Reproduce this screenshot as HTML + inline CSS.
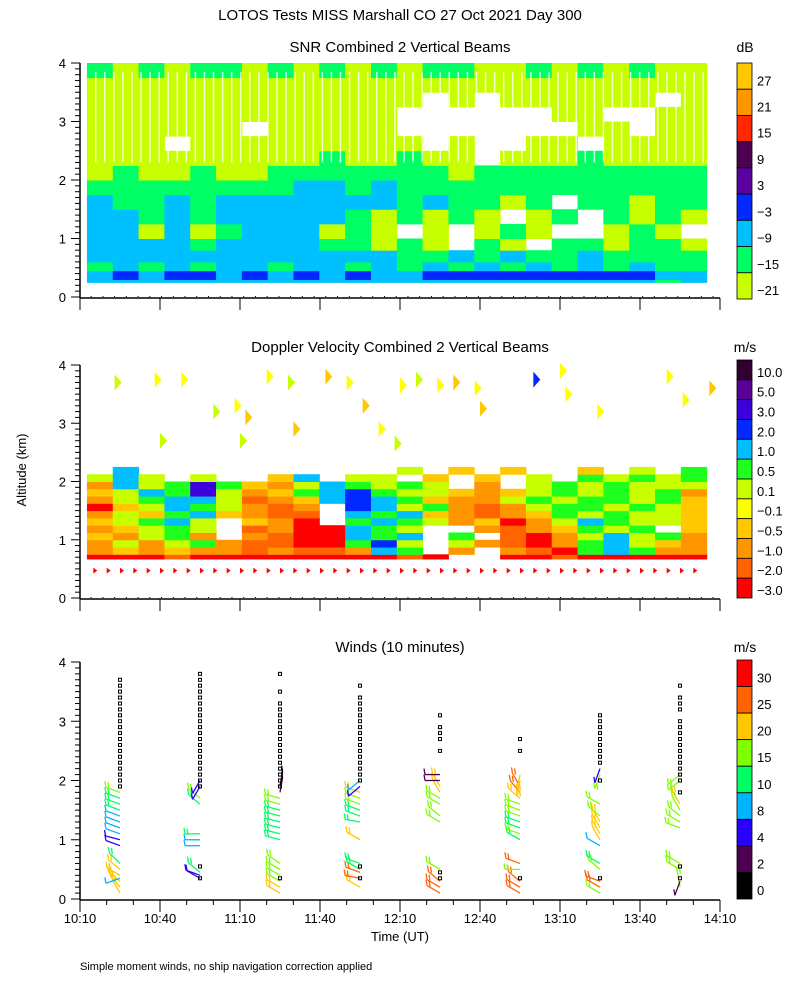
<!DOCTYPE html>
<html><head><meta charset="utf-8">
<style>
html,body{margin:0;padding:0;background:#fff;}
svg{display:block;font-family:"Liberation Sans",sans-serif;}
text{fill:#000;}
</style></head>
<body>
<svg id="fig" width="800" height="1000" viewBox="0 0 800 1000" xmlns="http://www.w3.org/2000/svg">
<text x="400" y="20" text-anchor="middle" font-size="15">LOTOS Tests MISS Marshall CO  27 Oct 2021 Day 300</text>
<text x="400" y="52" text-anchor="middle" font-size="15">SNR Combined 2 Vertical Beams</text>
<text x="400" y="352" text-anchor="middle" font-size="15">Doppler Velocity Combined 2 Vertical Beams</text>
<text x="400" y="652" text-anchor="middle" font-size="15">Winds (10 minutes)</text>
<text x="745" y="52" text-anchor="middle" font-size="14">dB</text>
<text x="745" y="352" text-anchor="middle" font-size="14">m/s</text>
<text x="745" y="652" text-anchor="middle" font-size="14">m/s</text>
<text x="0" y="0" transform="translate(26,470) rotate(-90)" text-anchor="middle" font-size="13">Altitude (km)</text>
<text x="400" y="941" text-anchor="middle" font-size="13">Time (UT)</text>
<text x="80" y="970" font-size="11">Simple moment winds, no ship navigation correction applied</text>
<g id="snr"></g>
<g id="dop"></g>
<g id="wind"></g>
<g id="axes"></g>
<g id="cbars"></g>
</svg>
<script>
// ---- data ----
const snrAltEdges=[0.25,0.3,0.45,0.6,0.8,1.0,1.25,1.5,1.75,2.0,2.25,2.5,2.75,3.0,3.25,3.5,3.75,4.0];
const snrRows=[
"CCCCCCCCCCCCCCCCCCCCCCGC",
"CBCBBCBCBCBCCBBBBBBBBBCC",
"GCGCGCCGCCGCGCGCGCGCGCGG",
"CCCCCCCCCCCCGGCGCGGCGGGG",
"CCCCGCCCCGGYGYWGYWGGYGGY",
"CCYCYGCCCYGYWYWYGYWWYGYW",
"CCGCGCCCCCGYGYGYWYGWGYGY",
"CGGCGCCCCCCCGCGGYGWGGYGG",
"GGGGGGGGCCGCGGGGGGGGGGGG",
"YGYYGYYGGGGGGGYGGGGGGGGG",
"YYYYYYYYYGYYGYYWYYYGYYYY",
"YYYWYYYYYYYYYWYWWYYWYYYY",
"YYYYYYWYYYYYWWWWWWWYYWYY",
"YYYYYYYYYYYYWWWWWWYYWWYY",
"YYYYYYYYYYYYYWYWYYYYYYWY",
"YYYYYYYYYYYYYYYYYYYYYYYY",
"GYGYGGYGYGYGYGGYYGYGYGYY"];
const snrColors={Y:"#c8ff00",G:"#00ff64",C:"#00c0ff",B:"#0028ff"};
const snrLabels=["27","21","15","9","3","\u22123","\u22129","\u221215","\u221221"];
const snrBar=["#ffc800","#ff9600","#ff2800","#4b0050","#5a00a0","#0028ff","#00c0ff","#00ff64","#c8ff00"];

const dopAltEdges=[0.67,0.75,0.875,1.0,1.125,1.25,1.375,1.5,1.625,1.75,1.875,2.0,2.125,2.25];
const dopRows=[
"RRRrRRRRRRRRrR..RRrRRRRR",
"OoOoOOrOrrOCG.O.OrRGCGOO",
"OyOyGOrrRRGBy.yOrROGCyoO",
"oOyGO.OrRRCGC.G.rROyCyGO",
"OoyGy.rORRCGy..OrOoGyG.o",
"oyGCy.oOR.GCGyOoROyCGyyo",
"OyoGCoOrr.CGCoOrOoGyGyyo",
"RoyCGyOrO.BCyGOrOyGGyGyo",
"OyGCCyrOoCBCGoOOyGyGGyGo",
"oyCGVyOoGCBGyyoOoyGyGyGO",
"OCyGVGoOyCGyGy.O.yGyGyyy",
"yCy.y..oC.yy.o.o.y.GyGyG",
".C..........y.o.o..o.y.G"];
const dopColors={R:"#ff0000",r:"#ff6400",O:"#ff9600",o:"#ffc800",Y:"#ffff00",y:"#c8ff00",G:"#1eff1e",C:"#00beff",B:"#0028ff",V:"#3c00dc"};
// sparse upper echoes: [minutes after 10:10, altitude km, code]
const dopSparseT=[13,28,38,50,58,62,70,78,92,100,120,126,134,140,148,150,170,182,194,220,226,236,60,80,112,118,180,30,106];
const dopSparseA=[3.7,3.75,3.75,3.2,3.3,3.1,3.8,3.7,3.8,3.7,3.65,3.75,3.65,3.7,3.6,3.25,3.75,3.5,3.2,3.8,3.4,3.6,2.7,2.9,2.9,2.65,3.9,2.7,3.3];
const dopSparseC=["y","Y","Y","y","Y","o","Y","y","o","Y","Y","y","Y","o","Y","o","B","Y","Y","Y","Y","o","y","o","Y","y","Y","y","o"];
const dopLabels=["10.0","5.0","3.0","2.0","1.0","0.5","0.1","\u22120.1","\u22120.5","\u22121.0","\u22122.0","\u22123.0"];
const dopBar=["#300030","#5a0096","#3c00dc","#0028ff","#00beff","#1eff1e","#c8ff00","#ffff00","#ffc800","#ff9600","#ff6400","#ff0000"];

// winds: profile times (minutes after 10:10)
const windTimes=[15,45,75,105,135,165,195,225];
const windAlt=[
[0.1,0.2,0.3,0.4,0.5,0.35,0.6,0.9,1.0,1.1,1.2,1.3,1.4,1.5,1.6,1.7,1.8],
[0.35,0.4,0.45,0.9,1.0,1.1,1.6,1.7,1.9,2.0],
[0.1,0.2,0.3,0.4,0.5,0.6,1.0,1.1,1.2,1.3,1.4,1.5,1.6,1.7,1.8,1.9],
[0.2,0.35,0.45,0.5,0.6,1.0,1.3,1.4,1.5,1.6,1.7,1.8,1.9,2.0],
[0.1,0.2,0.3,0.5,1.3,1.4,1.6,1.7,1.8,1.9,2.0,2.1],
[0.1,0.2,0.3,0.5,0.6,1.0,1.1,1.2,1.3,1.4,1.5,1.6,1.7,1.8,1.9,2.0,2.1],
[0.1,0.2,0.3,0.5,0.6,0.9,1.0,1.1,1.2,1.3,1.4,1.6,2.1,2.2],
[0.2,0.3,0.5,0.6,1.2,1.3,1.4,1.5,1.6,2.0,2.1]];
const windSpd=[
[22,22,22,22,21,9,14,6,6,9,9,9,9,12,12,14,16],
[5,6,12,9,9,10,14,16,6,6],
[21,21,18,17,17,16,12,12,12,13,14,14,15,16,3,1],
[21,26,26,13,13,21,13,12,14,16,18,20,6,9],
[26,26,26,17,16,17,16,18,21,21,3,3],
[26,26,26,17,25,14,16,13,14,16,15,18,22,25,25,22,22],
[18,26,26,16,14,9,21,21,21,21,18,16,16,6],
[16,3,16,17,17,18,17,18,21,16,16]];
const windAng=[
[60,50,40,30,40,-20,45,20,15,20,20,20,20,20,20,20,20],
[30,20,40,0,0,0,40,40,-60,-60],
[30,30,30,30,30,35,15,15,15,15,15,15,15,15,100,100],
[30,10,20,30,20,30,10,20,20,20,20,20,-40,-40],
[30,30,40,30,30,40,30,30,60,60,0,0],
[30,30,40,0,20,30,20,20,20,20,20,20,40,50,60,-80,-80],
[30,30,20,40,30,30,60,60,60,60,40,30,-70,-70],
[80,-70,30,30,20,30,40,60,60,-40,-40]];
const windMissA=[
[1.9,2.0,2.1,2.2,2.3,2.4,2.5,2.6,2.7,2.8,2.9,3.0,3.1,3.2,3.3,3.4,3.5,3.6,3.7],
[0.35,0.55,1.9,2.0,2.1,2.2,2.3,2.4,2.5,2.6,2.7,2.8,2.9,3.0,3.1,3.2,3.3,3.4,3.5,3.6,3.7,3.8],
[0.35,1.9,2.0,2.1,2.2,2.3,2.4,2.5,2.6,2.7,2.8,2.9,3.0,3.1,3.2,3.3,3.5,3.8],
[0.35,0.55,2.0,2.1,2.2,2.3,2.4,2.5,2.6,2.7,2.8,2.9,3.0,3.1,3.2,3.3,3.4,3.6],
[0.35,0.45,2.5,2.7,2.8,2.9,3.1],
[0.35,2.5,2.7],
[0.35,2.0,2.3,2.4,2.5,2.6,2.7,2.8,2.9,3.0,3.1],
[0.35,0.55,1.8,2.0,2.1,2.2,2.3,2.4,2.5,2.6,2.7,2.8,2.9,3.0,3.2,3.3,3.4,3.6]];
const windLabels=["30","25","20","15","10","8","4","2","0"];
const windBar=["#ff0000","#ff6400","#ffc800","#80ff00","#00ff64","#00b4ff","#2800ff","#500050","#000000"];
const windEdges=[2,4,8,10,15,20,25,30];
const timeLabels=["10:10","10:40","11:10","11:40","12:10","12:40","13:10","13:40","14:10"];
const altLabels=["0","1","2","3","4"];

// ---- axis functions ----
const NS="http://www.w3.org/2000/svg";
const X0=80,X1=720,TSPAN=240;
function xT(t){return X0+t*(X1-X0)/TSPAN;}
const panels={snr:{y0:297,y4:63},dop:{y0:598,y4:365},wind:{y0:899,y4:662}};
function yA(p,a){const P=panels[p];return P.y0+(P.y4-P.y0)*a/4;}
function mk(tag,attrs,parent){const e=document.createElementNS(NS,tag);for(const k in attrs)e.setAttribute(k,attrs[k]);parent.appendChild(e);return e;}
const dataT0=2.6,dataT1=235;

// SNR
const gS=document.getElementById('snr');
snrRows.forEach((row,ri)=>{
  const n=row.length;
  for(let c=0;c<n;c++){const ch=row[c];if(!snrColors[ch])continue;
    const ta=dataT0+(dataT1-dataT0)*c/n,tb=dataT0+(dataT1-dataT0)*(c+1)/n;
    const r=mk('rect',{x:xT(ta),y:yA('snr',snrAltEdges[ri+1]),width:xT(tb)-xT(ta)+0.5,height:yA('snr',snrAltEdges[ri])-yA('snr',snrAltEdges[ri+1])+0.5,fill:snrColors[ch]},gS);
    
    
  }
});
// thin vertical white streak texture in upper SNR region
for(let t=dataT0+3;t<dataT1;t+=3.4){
  const s=mk('rect',{x:xT(t),y:yA('snr',3.85),width:1.5,height:yA('snr',2.3)-yA('snr',3.85),fill:'#fff',opacity:0.8},gS);
  
  
}
// Doppler
const gD=document.getElementById('dop');
dopRows.forEach((row,ri)=>{
  const n=24;
  for(let c=0;c<row.length;c++){const ch=row[c];if(!dopColors[ch])continue;
    const ta=dataT0+(dataT1-dataT0)*c/n,tb=dataT0+(dataT1-dataT0)*(c+1)/n;
    const r=mk('rect',{x:xT(ta),y:yA('dop',dopAltEdges[ri+1]),width:xT(tb)-xT(ta)+0.5,height:yA('dop',dopAltEdges[ri])-yA('dop',dopAltEdges[ri+1])+0.5,fill:dopColors[ch]},gD);
    
    
  }
});
dopSparseT.forEach((t,i)=>{
  const x=xT(t),y=yA('dop',dopSparseA[i]);
  const p=mk('polygon',{points:`${x},${y-8} ${x+7},${y} ${x},${y+8}`,fill:dopColors[dopSparseC[i]]},gD);
  
  
});
for(let t=5;t<232;t+=5){
  const x=xT(t),y=yA('dop',0.47);
  const p=mk('polygon',{points:`${x},${y-3} ${x+4},${y} ${x},${y+3}`,fill:'#ff0000'},gD);
  
  
}
// Winds
const gW=document.getElementById('wind');
function windColor(s){let i=0;while(i<windEdges.length&&s>=windEdges[i])i++;return windBar[8-i];}
windTimes.forEach((t,pi)=>{
  const px=xT(t);
  windAlt[pi].forEach((a,j)=>{
    const s=windSpd[pi][j],ang=windAng[pi][j]*Math.PI/180,col=windColor(s);
    const y=yA('wind',a),L=15;
    const ex=px-L*Math.cos(ang),ey=y-L*Math.sin(ang);
    const g=mk('g',{stroke:col,'stroke-width':1.3,fill:'none'},gW);
    
    
    mk('line',{x1:px,y1:y,x2:ex,y2:ey},g);
    mk('line',{x1:ex,y1:ey,x2:ex-1,y2:ey-6},g);
    if(s>=10)mk('line',{x1:ex+3,y1:ey+1,x2:ex+2,y2:ey-5},g);
  });
  windMissA[pi].forEach(a=>{
    const q=mk('rect',{x:px-1.5,y:yA('wind',a)-1.5,width:3,height:3,fill:'none',stroke:'#000','stroke-width':1},gW);
    
    
  });
});

// Axes
const gA=document.getElementById('axes');
['snr','dop','wind'].forEach(p=>{
  const y0=yA(p,0)+1,y4=yA(p,4);
  mk('line',{x1:X0,y1:y4,x2:X0,y2:y0,stroke:'#000','stroke-width':1.5},gA);
  mk('line',{x1:X0,y1:y0,x2:X1,y2:y0,stroke:'#000','stroke-width':1.5},gA);
  for(let k=0;k<=40;k++){const y=yA(p,k/10);mk('line',{x1:X0-(k%10==0?9:5),y1:y,x2:X0,y2:y,stroke:'#000'},gA);}
  altLabels.forEach((l,i)=>{const t=mk('text',{x:X0-14,y:yA(p,i)+5,'text-anchor':'end','font-size':13},gA);t.textContent=l;
    });
  timeLabels.forEach((l,i)=>{const x=xT(i*30);mk('line',{x1:x,y1:y0,x2:x,y2:y0+12,stroke:'#000'},gA);});
  if(p!=='wind'){for(let t=4;t<238;t+=4.4)mk('rect',{x:xT(t),y:y0-2,width:1,height:1,fill:'#000'},gA);}
  else{for(let t=10;t<240;t+=10){if(t%30)mk('line',{x1:xT(t),y1:y0,x2:xT(t),y2:y0+5,stroke:'#000'},gA);}}
});
timeLabels.forEach((l,i)=>{const t=mk('text',{x:xT(i*30),y:923,'text-anchor':'middle','font-size':13},gA);t.textContent=l;
  });

// Colorbars
const gC=document.getElementById('cbars');
function cbar(colors,labels,top,bot,name){
  const h=(bot-top)/colors.length;
  colors.forEach((c,i)=>{const r=mk('rect',{x:737,y:top+i*h,width:15,height:h,fill:c,stroke:'#000','stroke-width':0.8},gC);
    });
  labels.forEach((l,i)=>{const t=mk('text',{x:757,y:top+i*h+h*0.85,'font-size':13},gC);t.textContent=l;
    });
}
cbar(snrBar,snrLabels,63,299,'snr-colorbar');
cbar(dopBar,dopLabels,360,598,'doppler-colorbar');
cbar(windBar,windLabels,660,899,'wind-colorbar');
</script>
</body></html>
